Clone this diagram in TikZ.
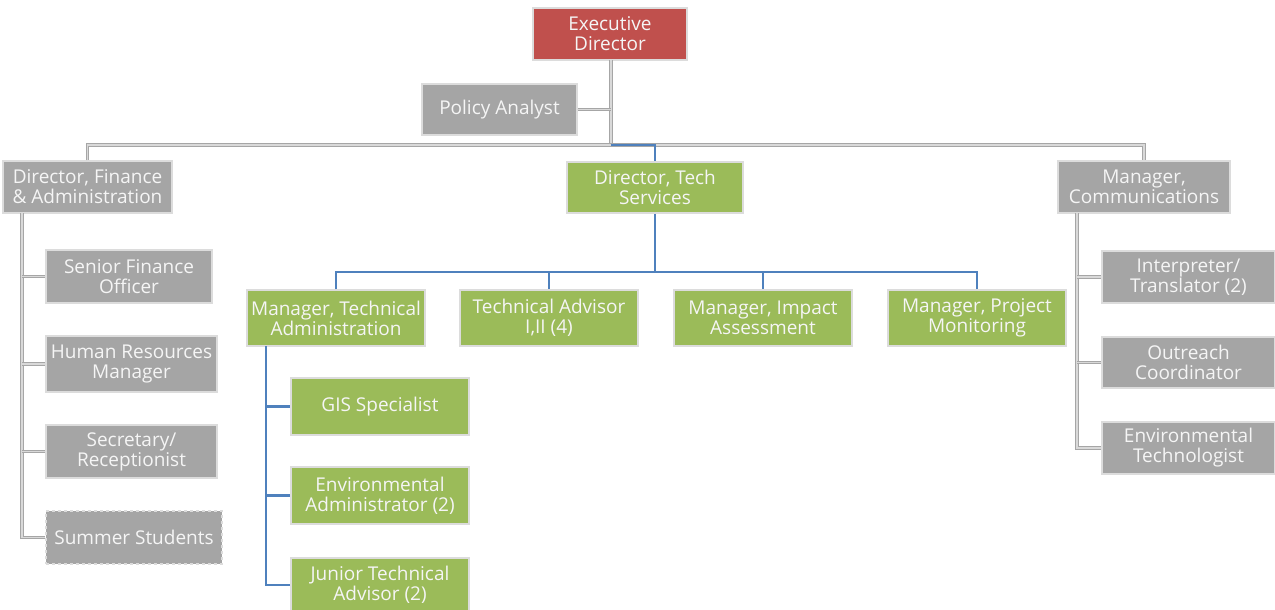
\documentclass[tikz,border=0pt]{standalone}
\usepackage{fontspec}
\setmainfont{Open Sans}
\usetikzlibrary{calc}
\definecolor{edred}{HTML}{C0504D}
\definecolor{boxgreen}{HTML}{9BBB59}
\definecolor{boxgray}{HTML}{A5A5A5}
\definecolor{conblue}{HTML}{4F81BD}
\definecolor{conout}{HTML}{A6A6A6}
\definecolor{conin}{HTML}{D9D9D9}
\definecolor{boxedge}{HTML}{DCDCDC}
\begin{document}
\begin{tikzpicture}[x=1pt,y=-1pt,
  base/.style={draw=boxedge, line width=1.5pt, text=white!96!black, align=center,
    font=\fontsize{19}{20}\selectfont, inner sep=0pt},
  redbox/.style={base, fill=edred},
  graybox/.style={base, fill=boxgray},
  greenbox/.style={base, fill=boxgreen},
  gcon/.style={draw=conout, double=conin, double distance=1.8pt, line width=1pt},
  bcon/.style={draw=conblue, line width=2.8pt}]
\useasboundingbox (0,0) rectangle (1275,610);
% nodes
\node[redbox, minimum width=154, minimum height=52] (ed) at (610,34) {Executive\\Director};
\node[graybox, minimum width=155, minimum height=51] (pa) at (499.5,109.5) {Policy Analyst};
\node[graybox, minimum width=169, minimum height=52] (dfa) at (87.5,187) {Director, Finance\\\& Administration};
\node[greenbox, minimum width=176, minimum height=51] (dts) at (655,187.5) {Director, Tech\\Services};
\node[graybox, minimum width=172, minimum height=52] (dmc) at (1144,187) {Manager,\\Communications};
% finance column
\node[graybox, minimum width=166, minimum height=53] (sfo) at (129,276.5) {Senior Finance\\Officer};
\node[graybox, minimum width=171, minimum height=56] (hrm) at (131.5,364) {Human Resources\\Manager};
\node[graybox, minimum width=171, minimum height=53] (sec) at (131.5,451.5) {Secretary/\\Receptionist};
\node[graybox, dashed, draw=boxedge, minimum width=176, minimum height=53] (sum) at (134,537.5) {Summer Students};
% tech row
\node[greenbox, minimum width=178, minimum height=56] (mta) at (336,318) {Manager, Technical\\Administration};
\node[greenbox, minimum width=178, minimum height=56] (tad) at (549,318) {Technical Advisor\\I,II (4)};
\node[greenbox, minimum width=178, minimum height=56] (mia) at (763,318) {Manager, Impact\\Assessment};
\node[greenbox, minimum width=178, minimum height=56] (mpm) at (977,318) {Manager, Project\\Monitoring};
% tech admin column
\node[greenbox, minimum width=178, minimum height=57] (gis) at (380,406.5) {GIS Specialist};
\node[greenbox, minimum width=178, minimum height=57] (ena) at (380,495.5) {Environmental\\Administrator (2)};
\node[greenbox, minimum width=178, minimum height=54] (jta) at (380,585) {Junior Technical\\Advisor (2)};
% communications column
\node[graybox, minimum width=173, minimum height=52] (int) at (1188.5,277) {Interpreter/\\Translator (2)};
\node[graybox, minimum width=173, minimum height=51] (out) at (1188.5,362.5) {Outreach\\Coordinator};
\node[graybox, minimum width=173, minimum height=52] (ent) at (1188.5,448) {Environmental\\Technologist};
% coordinates
\coordinate (bar) at (611,145);
\coordinate (edb) at (611,60);
\coordinate (ls) at (22,213);
\coordinate (rs) at (1077,213);
\coordinate (tbar) at (655,272);
\coordinate (ts) at (266,346);
% gray connectors
\draw[gcon] (edb) -- (bar);
\draw[gcon] (pa.east) -- (pa.east -| bar);
\draw[gcon] (dfa.north) -- (dfa.north |- bar) -- (dmc.north |- bar) -- (dmc.north);
\draw[gcon] (ls) |- (sum.west);
\draw[gcon] (ls |- sfo.west) -- (sfo.west);
\draw[gcon] (ls |- hrm.west) -- (hrm.west);
\draw[gcon] (ls |- sec.west) -- (sec.west);
\draw[gcon] (rs) |- (ent.west);
\draw[gcon] (rs |- int.west) -- (int.west);
\draw[gcon] (rs |- out.west) -- (out.west);
% blue connectors
\draw[bcon] (bar) -- (dts.north |- bar) -- (dts.north);
\draw[bcon] (dts.south) -- (tbar);
\draw[bcon] (mta.north) -- (mta.north |- tbar) -- (mpm.north |- tbar) -- (mpm.north);
\draw[bcon] (tad.north |- tbar) -- (tad.north);
\draw[bcon] (mia.north |- tbar) -- (mia.north);
\draw[bcon] (ts) |- (jta.west);
\draw[bcon] (ts |- gis.west) -- (gis.west);
\draw[bcon] (ts |- ena.west) -- (ena.west);
\end{tikzpicture}
\end{document}
